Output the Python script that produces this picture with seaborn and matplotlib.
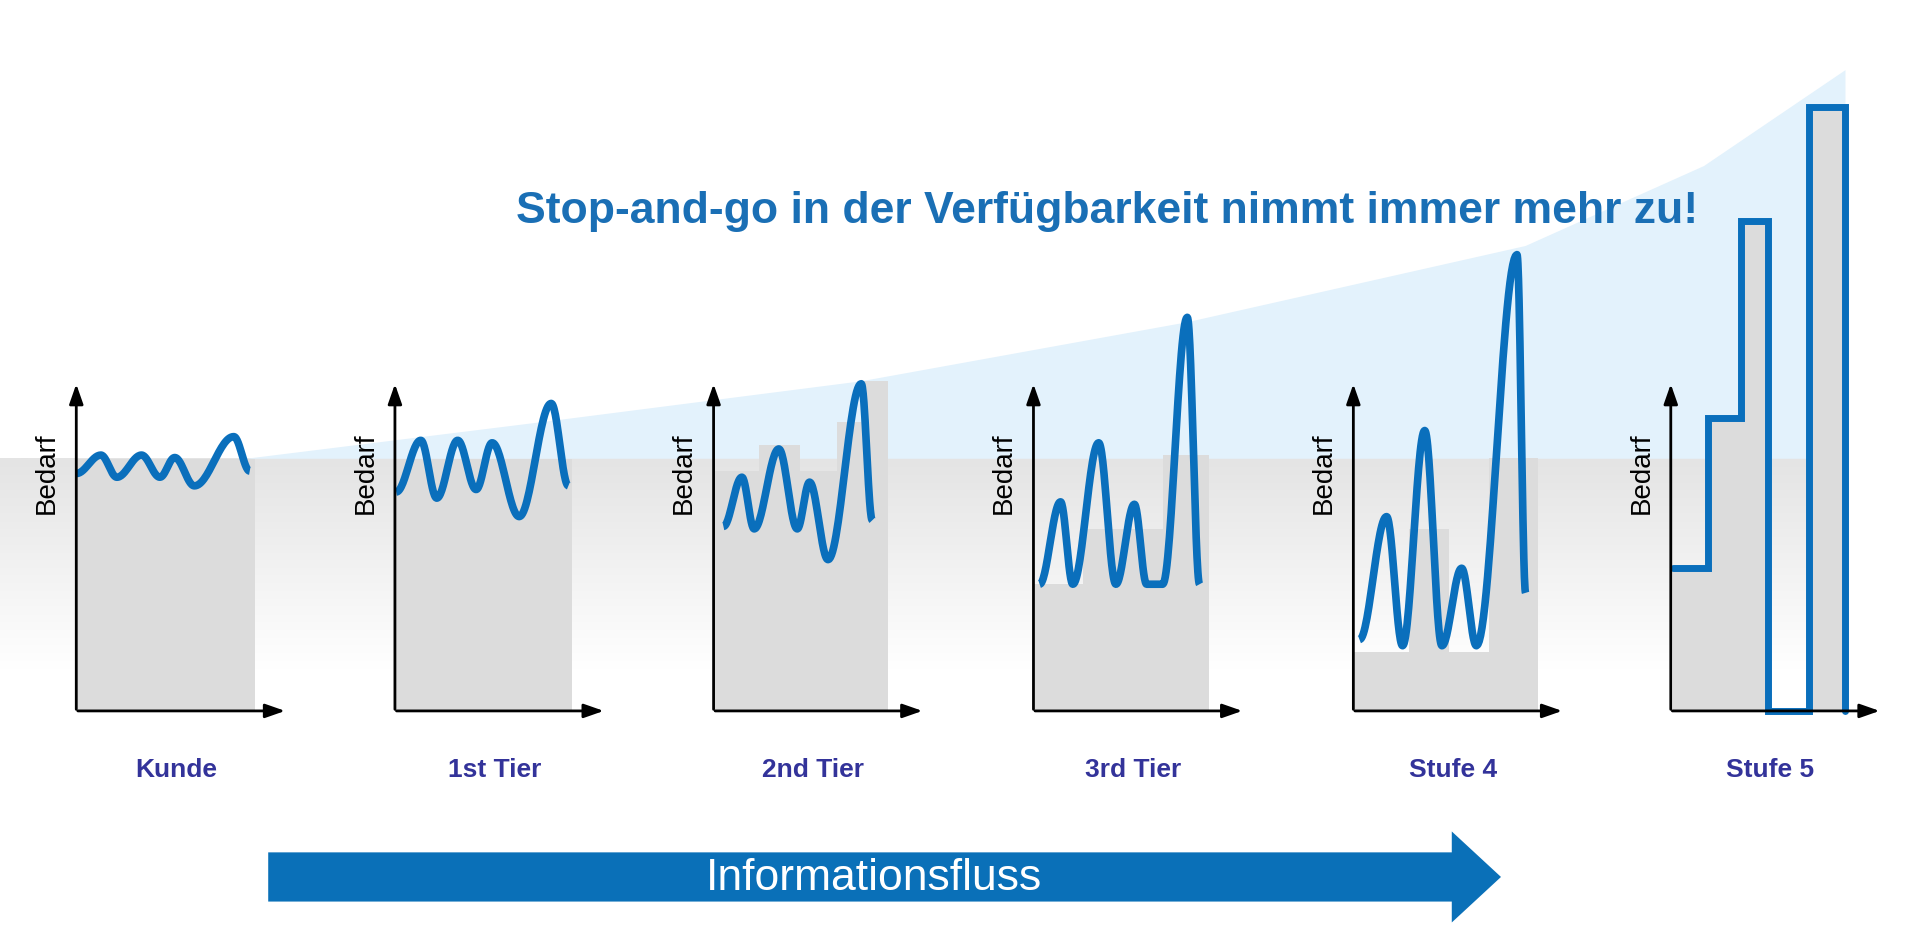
import numpy as np
import pandas as pd
import matplotlib
matplotlib.use("Agg")
import matplotlib.pyplot as plt
from matplotlib.patches import Polygon, Rectangle
import seaborn as sns

sns.set_theme(style="white")
plt.rcParams['font.family'] = ['Liberation Sans', 'DejaVu Sans']

# ---- data (canvas units, y downwards) ----
title = "Stop-and-go in der Verfügbarkeit nimmt immer mehr zu!"
stages = ["Kunde", "1st Tier", "2nd Tier", "3rd Tier", "Stufe 4", "Stufe 5"]
origins = [62, 321, 580, 840, 1100, 1358]
baseline = 578

# demand curves: extrema points (x, y)
k_x = [62, 82, 95, 115, 130, 142, 158, 190, 203]
k_y = [385, 370, 388, 370, 388, 372, 395, 355, 383]
t1_x = [322, 342, 355, 372, 387, 400, 422, 448, 462]
t1_y = [400, 358, 405, 358, 398, 360, 420, 328, 395]
t2_x = [588, 603, 613, 633, 648, 658, 673, 700, 709]
t2_y = [428, 388, 430, 365, 430, 392, 455, 312, 423]
t3_x = [845, 862, 872, 893, 907, 922, 932, 945, 965, 975]
t3_y = [475, 408, 475, 360, 475, 410, 475, 475, 258, 475]
s4_x = [1105, 1127, 1140, 1158, 1172, 1188, 1200, 1233, 1240]
s4_y = [520, 420, 525, 350, 525, 462, 525, 207, 482]
curves = [(k_x, k_y), (t1_x, t1_y), (t2_x, t2_y), (t3_x, t3_y), (s4_x, s4_y)]
# stufe 5 step line
s5_x = [1360, 1388, 1388, 1415, 1415, 1437, 1437, 1470, 1470, 1500, 1500]
s5_y = [462, 462, 340, 340, 180, 180, 578, 578, 87, 87, 578]

# grey stock blocks per panel: (x_left, x_right, top)
blocks = [
    [(62, 207, 373)],
    [(321, 465, 373)],
    [(580, 722, 383), (617, 650, 362), (680, 700, 343), (700, 722, 310)],
    [(840, 983, 475), (880, 945, 430), (945, 983, 370)],
    [(1100, 1245, 530), (1145, 1178, 430), (1210, 1250, 372)],
]

# wedge upper edge
wedge_x = [200, 450, 700, 965, 1240, 1385, 1500]
wedge_y = [373, 342, 310, 262, 200, 135, 57]

fig = plt.figure(figsize=(19.07, 9.36), dpi=100)
ax = fig.add_axes([0, 0, 1, 1])
ax.set_xlim(0, 1550)
ax.set_ylim(761, 0)
ax.axis("off")

# gradient grey band
grad = np.linspace(0, 1, 100).reshape(-1, 1)
cmap = matplotlib.colors.LinearSegmentedColormap.from_list("g", ["#e4e4e4", "#ffffff"])
ax.imshow(grad, extent=(0, 1500, 545, 373), cmap=cmap, aspect="auto", zorder=0)

# blue wedge
poly = list(zip(wedge_x, wedge_y)) + [(1500, 373), (200, 373)]
ax.add_patch(Polygon(poly, closed=True, color="#e3f2fc", lw=0, zorder=0.5))

for bl in blocks:
    for (a, b, t) in bl:
        ax.add_patch(Rectangle((a, t), b - a, baseline - t, color="#dcdcdc", lw=0, zorder=1))
ax.fill_between(s5_x, s5_y, baseline, color="#dcdcdc", lw=0, zorder=1)

def smooth(xs, ys, n=30):
    X, Y = [], []
    for i in range(len(xs) - 1):
        t = np.linspace(0, 1, n)
        w = (1 - np.cos(np.pi * t)) / 2
        X.extend(xs[i] + (xs[i + 1] - xs[i]) * t)
        Y.extend(ys[i] + (ys[i + 1] - ys[i]) * w)
    return X, Y

blue = "#0a6fbc"
for xs, ys in curves:
    X, Y = smooth(xs, ys)
    sns.lineplot(x=X, y=Y, sort=False, ax=ax, color=blue, lw=5.5, zorder=3,
                 estimator=None, solid_capstyle="butt")
sns.lineplot(x=s5_x, y=s5_y, sort=False, ax=ax, color=blue, lw=5, zorder=3,
             estimator=None, solid_joinstyle="miter")

for x0, name in zip(origins, stages):
    ax.annotate("", xy=(x0 + 172, baseline), xytext=(x0 - 1, baseline),
                arrowprops=dict(arrowstyle="-|>,head_length=1.0,head_width=0.35", color="black", lw=2), zorder=4)
    ax.annotate("", xy=(x0, 310), xytext=(x0, baseline + 1),
                arrowprops=dict(arrowstyle="-|>,head_length=1.0,head_width=0.35", color="black", lw=2), zorder=4)
    ax.text(x0 - 24, 385, "Bedarf", rotation=90, ha="center", va="center", fontsize=20, color="black", zorder=4)
    ax.text(x0 + 81, 626, name, ha="center", va="center", fontsize=19, fontweight="bold", color="#33339a", zorder=4)

ax.text(900, 172, title, ha="center", va="center", fontsize=32, fontweight="bold", color="#1a6fb5", zorder=4)

ax.add_patch(Polygon([(218, 693), (1180, 693), (1180, 676), (1220, 713), (1180, 750), (1180, 733), (218, 733)],
                     closed=True, color="#0a70b8", lw=0, zorder=4))
ax.text(710, 714, "Informationsfluss", ha="center", va="center", fontsize=32, color="white", zorder=5)

fig.savefig("out.png", dpi=100)
